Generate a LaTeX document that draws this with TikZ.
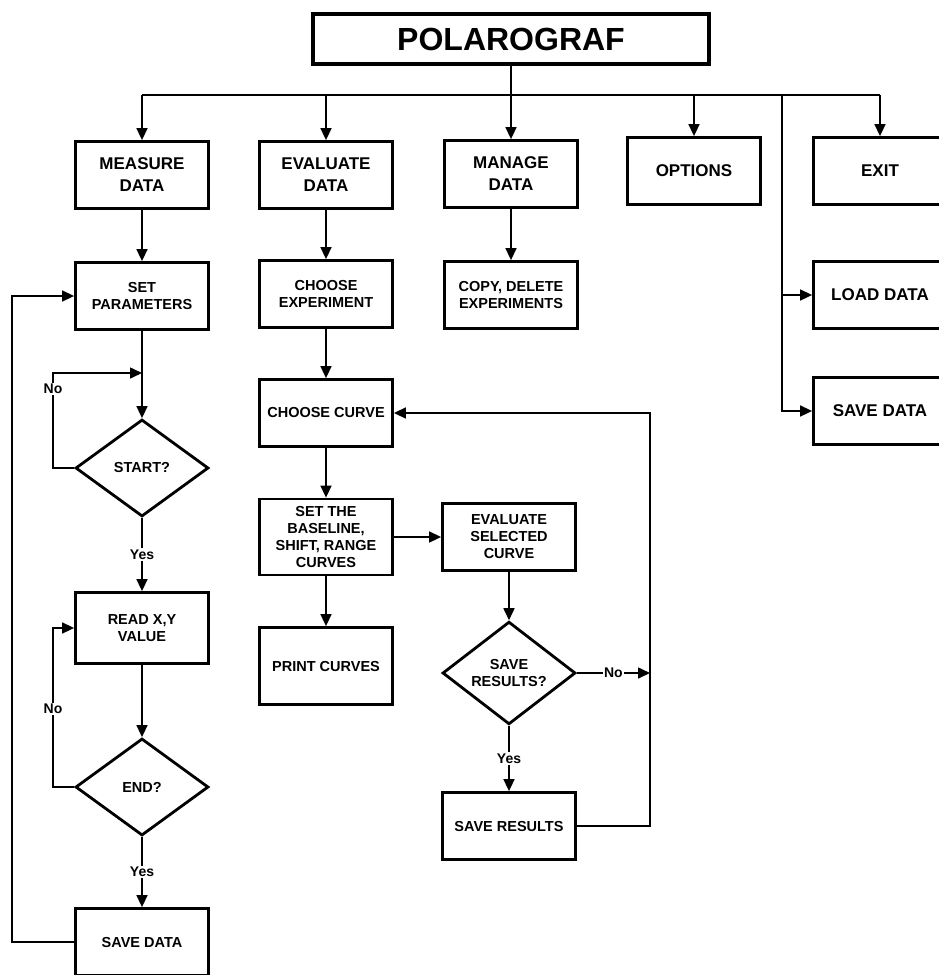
\documentclass[tikz,border=0pt]{standalone}
\usepackage{fontspec}
\setmainfont{Liberation Sans}
\usetikzlibrary{arrows.meta,shapes.geometric}
\newcommand\titlefont{\fontsize{32}{36}\selectfont\bfseries}
\newcommand\bigfont{\fontsize{17}{22}\selectfont\bfseries}
\newcommand\smallfont{\fontsize{14.5}{17}\selectfont\bfseries}
\newcommand\labelfont{\fontsize{14}{15}\selectfont\bfseries}
\tikzset{
  >={Triangle[length=12pt,width=11pt]},
  box/.style={draw, line width=2.8pt, minimum width=133pt, minimum height=67pt, inner sep=0pt, align=center, font=\bigfont},
  smallbox/.style={box, font=\smallfont},
  decision/.style={draw, diamond, line width=2.8pt, minimum width=133pt, minimum height=97pt, inner sep=0pt, align=center, font=\smallfont},
  conn/.style={line width=1.6pt},
  arrow/.style={->, conn},
  lbl/.style={fill=white, inner sep=1.5pt, font=\labelfont}
}
\begin{document}
\begin{tikzpicture}[x=1pt, y=-1pt]
  \clip (0,0) rectangle (939,975);

  \node[box, line width=3.6pt, minimum width=396pt, minimum height=50pt, font=\titlefont] (title) at (511,39) {POLAROGRAF};

  \node[box] (measure) at (142,175) {MEASURE\\DATA};
  \node[box] (evaluate) at (326,175) {EVALUATE\\DATA};
  \node[box] (manage) at (511,174) {MANAGE\\DATA};
  \node[box] (options) at (694,171) {OPTIONS};
  \node[box] (exit) at (880,171) {EXIT};

  \node[smallbox] (setpar) at (142,296) {SET\\PARAMETERS};
  \node[smallbox] (chexp) at (326,294) {CHOOSE\\EXPERIMENT};
  \node[smallbox] (copydel) at (511,295) {COPY, DELETE\\EXPERIMENTS};
  \node[box] (load) at (880,295) {LOAD DATA};
  \node[box] (saveright) at (880,411) {SAVE DATA};

  \node[decision] (start) at (142,468) {START?};
  \node[smallbox, minimum height=71pt] (readxy) at (142,628) {READ X,Y\\VALUE};
  \node[decision] (endq) at (142,787) {END?};
  \node[smallbox] (saveleft) at (142,942) {SAVE DATA};

  \node[smallbox] (chcurve) at (326,413) {CHOOSE CURVE};
  \node[smallbox, minimum height=76pt] (baseline) at (326,537) {SET THE\\BASELINE,\\SHIFT, RANGE\\CURVES};
  \node[smallbox, minimum height=77pt] (print) at (326,666) {PRINT CURVES};
  \node[smallbox] (evalsel) at (509,537) {EVALUATE\\SELECTED\\CURVE};
  \node[decision] (saveq) at (509,673) {SAVE\\RESULTS?};
  \node[smallbox] (saveres) at (509,826) {SAVE RESULTS};

  \coordinate (busL) at (142,95);
  \coordinate (busR) at (880,95);
  \coordinate (branch) at (782,95);
  \coordinate (nostart) at (53,373);
  \coordinate (noend) at (53,628);
  \coordinate (back) at (12,296);
  \coordinate (ret) at (650,413);

  \draw[conn] (title) -- (title |- busL);
  \draw[conn] (busL) -- (busR);
  \foreach \n in {measure,evaluate,manage,options,exit}
    \draw[arrow] (\n |- busL) -- (\n);
  \draw[arrow] (branch) |- (load);
  \draw[arrow] (branch) |- (saveright);

  \foreach \a/\b in {measure/setpar, evaluate/chexp, manage/copydel, chexp/chcurve,
    chcurve/baseline, baseline/print, baseline/evalsel, evalsel/saveq, setpar/start, readxy/endq}
    \draw[arrow] (\a) -- (\b);

  \draw[arrow] (start) -- node[lbl] (yes1) {Yes} (readxy);
  \draw[arrow] (endq) -- node[lbl] (yes2) {Yes} (saveleft);
  \draw[arrow] (saveq) -- node[lbl] (yes3) {Yes} (saveres);

  \draw[arrow] (start.west) -| (nostart) -- (nostart -| start);
  \node[lbl] (no1) at (53,389) {No};
  \draw[arrow] (endq.west) -| (noend) -- (readxy.west);
  \node[lbl] (no2) at (53,709) {No};
  \draw[arrow] (saveleft.west) -| (back) -- (setpar.west);
  \draw[arrow] (saveres.east) -| (ret) -- (chcurve.east);
  \draw[arrow] (saveq.east) -- node[lbl] (no3) {No} (saveq.east -| ret);
\end{tikzpicture}
\end{document}
